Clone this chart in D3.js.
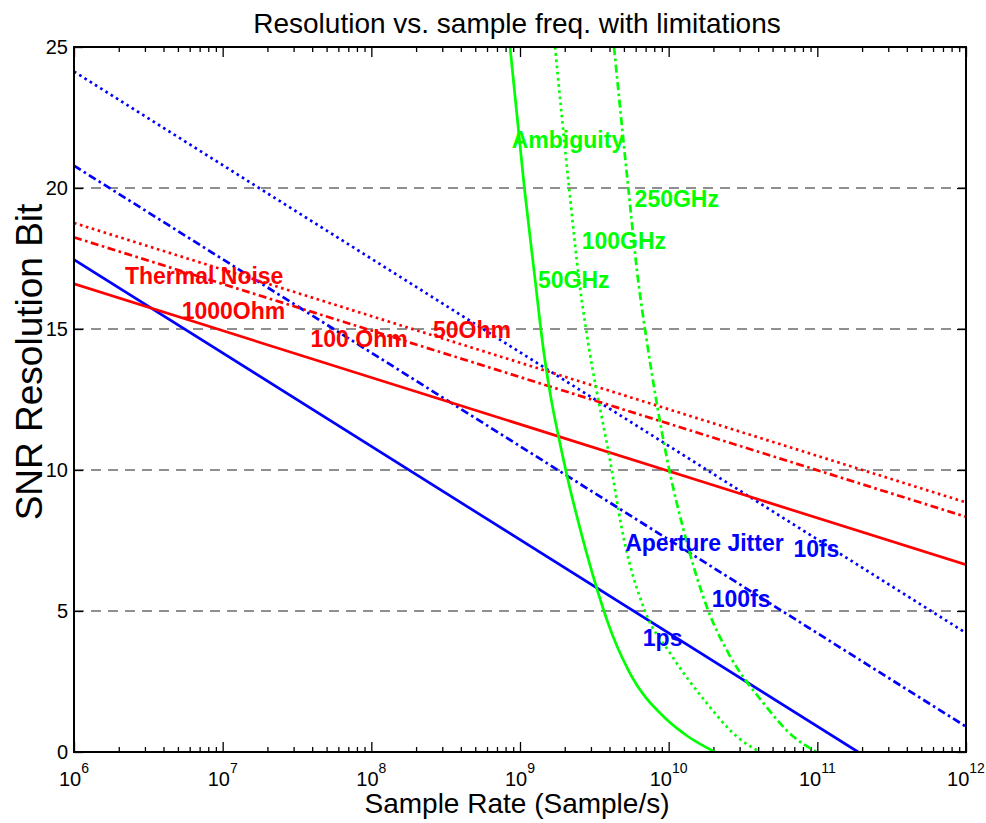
<!DOCTYPE html>
<html>
<head>
<meta charset="utf-8">
<script src="https://cdn.jsdelivr.net/npm/d3@7"></script>
<style>
  body { margin: 0; background: #fff; }
  text { font-family: "Liberation Sans", Arial, sans-serif; }
</style>
</head>
<body>
<svg id="chart" width="986" height="823"></svg>
<script>
'use strict'

// values: sample rate in Sample/s, resolution in bits
const fullRange = [1e6, 1e12]

// thermal noise (straight on a log axis)
const thermal1000Ohm = [16.6, 6.64]
const thermal100Ohm = [18.25, 8.34]
const thermal50Ohm = [18.76, 8.85]

// aperture jitter
const jitter1psRates = [1e6, 1.88e11]
const jitter1psBits = [17.46, 0]
const jitter100fsBits = [20.79, 0.9]
const jitter10fsBits = [24.13, 4.22]

// ambiguity
const amb50Rates = [8.57e8, 1.07e9, 1.28e9, 1.38e9, 2.03e9, 2.53e9, 3.67e9, 3.91e9, 5.33e9, 9.7e9, 1.35e10, 2.05e10]
const amb50Bits = [25, 20, 16.5, 15, 10, 7.94, 5, 4.57, 2.92, 1.15, 0.55, 0]
const amb100Rates = [1.72e9, 2.14e9, 2.53e9, 2.78e9, 4.14e9, 4.83e9, 6.93e9, 1.02e10, 1.8e10, 2.87e10, 4.11e10]
const amb250Rates = [4.29e9, 5.35e9, 6.31e9, 6.93e9, 1.01e10, 1.25e10, 1.85e10, 2.52e10, 4.33e10, 6.89e10, 9.9e10]
const ambBits = [25, 20, 16.5, 15, 10, 7.94, 5, 3.51, 1.74, 0.55, 0]

// axes
const decadeTicks = [1e6, 1e7, 1e8, 1e9, 1e10, 1e11, 1e12]
const decadeExps = ['6', '7', '8', '9', '10', '11', '12']
const bitTicks = [0, 5, 10, 15, 20, 25]
const gridBits = [5, 10, 15, 20]

// text annotations, anchored at their left baseline in data space
const noteTexts = ['Thermal Noise', '1000Ohm', '100 Ohm', '50Ohm', 'Ambiguity', '250GHz', '100GHz', '50GHz',
  'Aperture Jitter', '10fs', '100fs', '1ps']
const noteRates = [2.2e6, 5.3e6, 3.9e7, 2.6e8, 8.8e8, 5.9e9, 2.6e9, 1.32e9, 5.1e9, 6.9e10, 1.95e10, 6.7e9]
const noteBits = [16.61, 15.37, 14.37, 14.69, 21.43, 19.34, 17.85, 16.46, 7.14, 6.93, 5.15, 3.77]
const noteGroup = ['r', 'r', 'r', 'r', 'g', 'g', 'g', 'g', 'b', 'b', 'b', 'b']

const RED = '#ff0000', BLUE = '#0000ff', GREEN = '#00ff00'
const DOT = '2.6,3.6', DASHDOT = '8,3.5,2.6,3.5'

const zip = (xs, ys) => xs.map((v, i) => [v, ys[i]])

const series = [
  {pts: zip(fullRange, jitter10fsBits), color: BLUE, dash: DOT},
  {pts: zip(fullRange, jitter100fsBits), color: BLUE, dash: DASHDOT},
  {pts: zip(jitter1psRates, jitter1psBits), color: BLUE, dash: null},
  {pts: zip(fullRange, thermal50Ohm), color: RED, dash: DOT},
  {pts: zip(fullRange, thermal100Ohm), color: RED, dash: DASHDOT},
  {pts: zip(fullRange, thermal1000Ohm), color: RED, dash: null},
  {pts: zip(amb100Rates, ambBits), color: GREEN, dash: DOT},
  {pts: zip(amb250Rates, ambBits), color: GREEN, dash: DASHDOT},
  {pts: zip(amb50Rates, amb50Bits), color: GREEN, dash: null},
]

const margin = {left: 74, right: 20, top: 47, bottom: 71}
const W = 986, H = 823

const x = d3.scaleLog().domain([1e6, 1e12]).range([margin.left, W - margin.right])
const y = d3.scaleLinear().domain([0, 25]).range([H - margin.bottom, margin.top])

const svg = d3.select('#chart')

svg.append('defs').append('clipPath').attr('id', 'plot-clip')
  .append('rect')
  .attr('x', margin.left).attr('y', margin.top)
  .attr('width', x.range()[1] - margin.left)
  .attr('height', y.range()[0] - margin.top)

// horizontal grid
svg.append('g').selectAll('line')
  .data(gridBits)
  .enter().append('line')
  .attr('x1', x.range()[0]).attr('x2', x.range()[1])
  .attr('y1', d => y(d)).attr('y2', d => y(d))
  .attr('stroke', '#6b6b6b')
  .attr('stroke-width', 1.5)
  .attr('stroke-dasharray', '10,7')

// ticks: inward on all four sides
const minorTicks = x.ticks().filter(d => decadeTicks.indexOf(d) < 0)
const yBottom = y.range()[0], yTop = y.range()[1]
const tickAxes = [
  [d3.axisBottom(x).tickValues(minorTicks).tickSize(-5), yBottom],
  [d3.axisBottom(x).tickValues(decadeTicks).tickSize(-10), yBottom],
  [d3.axisTop(x).tickValues(minorTicks).tickSize(-5), yTop],
  [d3.axisTop(x).tickValues(decadeTicks).tickSize(-10), yTop],
]
tickAxes.forEach(([ax, ty]) => {
  const g = svg.append('g').attr('transform', 'translate(0,' + ty + ')')
    .call(ax.tickFormat(''))
  g.select('.domain').remove()
  g.selectAll('line').attr('stroke', '#000').attr('stroke-width', 1.3)
})
;[[d3.axisLeft(y), x.range()[0]], [d3.axisRight(y), x.range()[1]]].forEach(([ax, tx]) => {
  const g = svg.append('g').attr('transform', 'translate(' + tx + ',0)')
    .call(ax.tickValues(bitTicks).tickSize(-9).tickFormat(''))
  g.select('.domain').remove()
  g.selectAll('line').attr('stroke', '#000').attr('stroke-width', 1.3)
})

// curves
const line = d3.line()
  .x(d => x(d[0]))
  .y(d => y(d[1]))
  .curve(d3.curveMonotoneX)

svg.append('g').attr('clip-path', 'url(#plot-clip)')
  .selectAll('path')
  .data(series)
  .enter().append('path')
  .attr('d', d => line(d.pts))
  .attr('fill', 'none')
  .attr('stroke', d => d.color)
  .attr('stroke-width', 2.7)
  .attr('stroke-dasharray', d => d.dash)

// box
svg.append('rect')
  .attr('x', x.range()[0]).attr('y', yTop)
  .attr('width', x.range()[1] - x.range()[0])
  .attr('height', yBottom - yTop)
  .attr('fill', 'none')
  .attr('stroke', '#000')
  .attr('stroke-width', 2)

// tick labels
svg.append('g').selectAll('text')
  .data(bitTicks)
  .enter().append('text')
  .attr('x', x.range()[0] - 6)
  .attr('y', d => y(d) + 7)
  .attr('text-anchor', 'end')
  .style('font-size', '20px')
  .text(d => d)

const xl = svg.append('g').selectAll('text')
  .data(decadeTicks)
  .enter().append('text')
  .attr('x', d => x(d))
  .attr('y', yBottom + 34)
  .attr('text-anchor', 'middle')
  .style('font-size', '20px')
xl.append('tspan').text('10')
xl.append('tspan')
  .attr('dy', -13)
  .style('font-size', '14px')
  .text((d, i) => decadeExps[i])

// titles
svg.append('text')
  .attr('x', (x.range()[0] + x.range()[1]) / 2 - 3)
  .attr('y', 33)
  .attr('text-anchor', 'middle')
  .style('font-size', '28px')
  .text('Resolution vs. sample freq. with limitations')

svg.append('text')
  .attr('x', (x.range()[0] + x.range()[1]) / 2 - 3)
  .attr('y', 813)
  .attr('text-anchor', 'middle')
  .style('font-size', '28px')
  .text('Sample Rate (Sample/s)')

svg.append('text')
  .attr('transform', 'translate(42,362)rotate(-90)')
  .attr('text-anchor', 'middle')
  .style('font-size', '37px')
  .text('SNR Resolution Bit')

// annotations
const groupColor = {r: RED, g: GREEN, b: BLUE}
svg.append('g').selectAll('text')
  .data(noteTexts)
  .enter().append('text')
  .attr('x', (d, i) => x(noteRates[i]))
  .attr('y', (d, i) => y(noteBits[i]))
  .attr('fill', (d, i) => groupColor[noteGroup[i]])
  .style('font-size', '23px')
  .style('font-weight', 'bold')
  .text(d => d)
</script>
</body>
</html>
